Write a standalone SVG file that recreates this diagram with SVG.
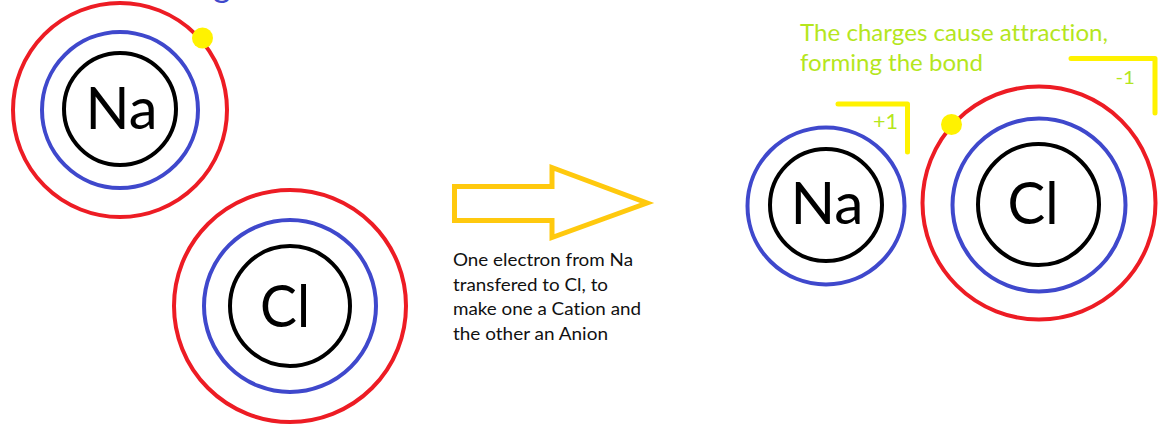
<svg xmlns="http://www.w3.org/2000/svg" width="1160" height="428" viewBox="0 0 1160 428">
  <style>
    text { font-variant-ligatures: none; }
    .shell-outer { fill: none; stroke: #ED1C24; stroke-width: 4; }
    .shell-mid { fill: none; stroke: #3F48CC; stroke-width: 4; }
    .nucleus { fill: none; stroke: #000000; stroke-width: 4; }
    .electron { fill: #FFF200; }
    .symbol { font-family: Lato, "Open Sans", sans-serif; font-size: 58px; fill: #000000; text-anchor: middle; }
    .note { font-family: Lato, "Open Sans", sans-serif; font-size: 18px; fill: #111111; }
    .green { font-family: Lato, "Open Sans", sans-serif; fill: #B5E61D; }
    .bracket { fill: none; stroke: #FFF200; stroke-width: 5; stroke-linecap: round; stroke-linejoin: round; }
    .arrow { fill: none; stroke: #FFC90E; stroke-width: 5; stroke-linejoin: miter; }
  </style>

  <rect width="1160" height="428" fill="#FFFFFF"/>

  <!-- heading text running off the top edge -->
  <text x="213" y="-3" font-family="Lato, 'Open Sans', sans-serif" font-size="34" fill="#3F48CC">g</text>

  <!-- sodium atom before transfer -->
  <g id="na-before">
    <circle class="shell-outer" cx="120" cy="110" r="107"/>
    <circle class="shell-mid" cx="120" cy="110" r="78"/>
    <circle class="nucleus" cx="120" cy="109" r="56"/>
    <text class="symbol" x="121.5" y="129" textLength="72" lengthAdjust="spacingAndGlyphs">Na</text>
    <circle class="electron" cx="202.5" cy="38" r="10.5"/>
  </g>

  <!-- chlorine atom before transfer -->
  <g id="cl-before">
    <circle class="shell-outer" cx="290" cy="306" r="116"/>
    <circle class="shell-mid" cx="290" cy="306" r="86"/>
    <circle class="nucleus" cx="290" cy="306" r="60"/>
    <text class="symbol" x="285" y="327" textLength="50" lengthAdjust="spacingAndGlyphs">Cl</text>
  </g>

  <!-- transfer arrow -->
  <g id="connectors">
    <polygon class="arrow" points="454.5,186.5 552,186.5 552,167.5 647,203 552,237.5 552,220.5 454.5,220.5"/>
  </g>

  <g id="transfer-note">
    <text class="note" x="453" y="266" textLength="180" lengthAdjust="spacingAndGlyphs">One electron from Na</text>
    <text class="note" x="453" y="291" textLength="155" lengthAdjust="spacingAndGlyphs">transfered to Cl, to</text>
    <text class="note" x="453" y="315" textLength="188" lengthAdjust="spacingAndGlyphs">make one a Cation and</text>
    <text class="note" x="453" y="340" textLength="155" lengthAdjust="spacingAndGlyphs">the other an Anion</text>
  </g>

  <!-- bond caption -->
  <g id="bond-caption">
    <text class="green" font-size="22.5" x="800" y="41" textLength="308" lengthAdjust="spacingAndGlyphs">The charges cause attraction,</text>
    <text class="green" font-size="22.5" x="800" y="71" textLength="183" lengthAdjust="spacingAndGlyphs">forming the bond</text>
  </g>

  <!-- sodium cation -->
  <g id="na-ion">
    <circle class="shell-mid" cx="826" cy="206" r="78.5"/>
    <circle class="nucleus" cx="826" cy="205" r="56"/>
    <text class="symbol" x="827" y="224" textLength="73" lengthAdjust="spacingAndGlyphs">Na</text>
    <polyline class="bracket" points="838,104 907.5,104 907.5,152"/>
    <text class="green" font-size="22" x="873" y="129" textLength="25" lengthAdjust="spacingAndGlyphs">+1</text>
  </g>

  <!-- chloride anion -->
  <g id="cl-ion">
    <circle class="shell-outer" cx="1039" cy="203" r="116.5"/>
    <circle class="shell-mid" cx="1039" cy="205" r="86.5"/>
    <circle class="nucleus" cx="1038.5" cy="204.5" r="60.5"/>
    <text class="symbol" x="1033" y="224" textLength="51" lengthAdjust="spacingAndGlyphs">Cl</text>
    <circle class="electron" cx="951.5" cy="124.5" r="10.5"/>
    <polyline class="bracket" points="1071,58.5 1155,58.5 1155,113"/>
    <text class="green" font-size="17" x="1115.5" y="84" textLength="19.5" lengthAdjust="spacingAndGlyphs">-1</text>
  </g>
</svg>
